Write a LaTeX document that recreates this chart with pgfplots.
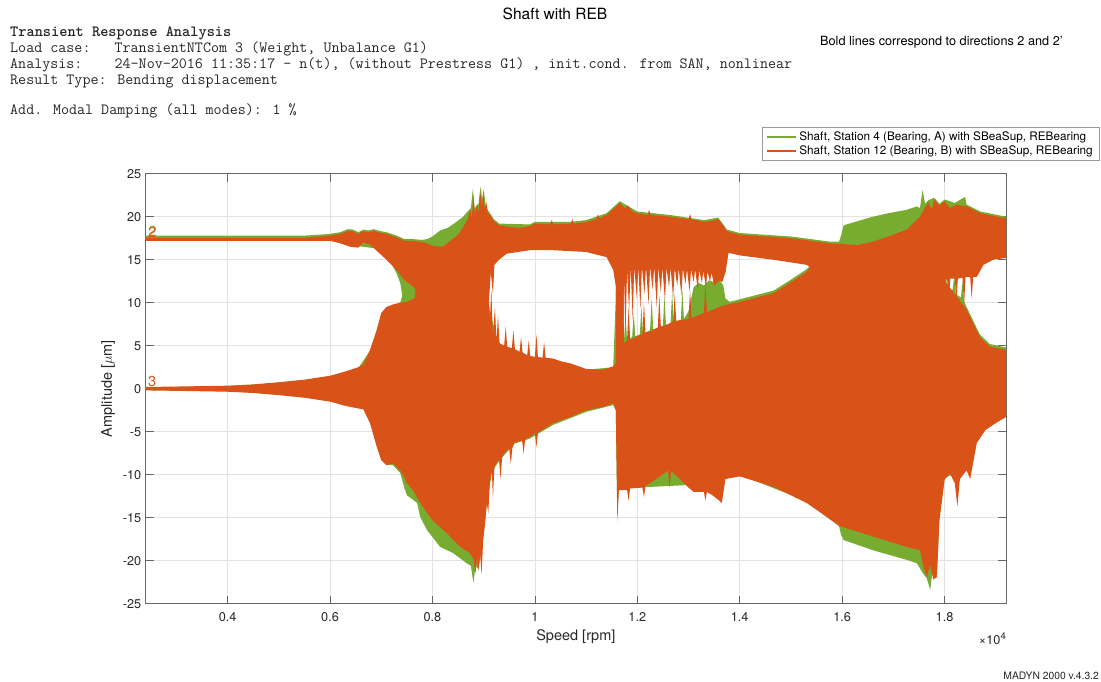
\documentclass[border=0pt]{standalone}
\usepackage{fontspec}
\setmainfont{TeX Gyre Heros}
\usepackage{pgfplots}
\pgfplotsset{compat=1.18}
\usepgfplotslibrary{fillbetween}
\definecolor{mgreen}{HTML}{77AC30}
\definecolor{morange}{HTML}{D95319}
\definecolor{axgray}{HTML}{262626}

\begin{document}
\begin{tikzpicture}[x=1pt,y=1pt]
% page frame
\path (0,0) rectangle (1101,682);

% page header
\node[anchor=base, font=\fontsize{15.5}{18}\selectfont] at (555,662) {Shaft with REB};
\begin{scope}[every node/.style={anchor=base west, inner sep=0pt, font=\ttfamily\fontsize{15.6}{17}\selectfont, text=axgray}]
\node[font=\ttfamily\bfseries\fontsize{15.6}{17}\selectfont] at (10,645) {Transient Response Analysis};
\node at (10,629) {Load case:\ \ \ TransientNTCom 3 (Weight, Unbalance G1)};
\node at (10,613) {Analysis:\ \ \ \ 24-Nov-2016 11:35:17 - n(t), (without Prestress G1) , init.cond. from SAN, nonlinear};
\node at (10,597) {Result Type: Bending displacement};
\node at (10,567) {Add. Modal Damping (all modes): 1 \%};
\end{scope}
\node[anchor=base west, inner sep=0pt, font=\fontsize{12.7}{15}\selectfont] at (820,636) {Bold lines correspond to directions 2 and 2'};
\node[anchor=base east, inner sep=0pt, font=\fontsize{10.3}{12}\selectfont, text=axgray] at (1099,2) {MADYN 2000 v.4.3.2};
\node[anchor=base east, inner sep=0pt, font=\fontsize{12.7}{14}\selectfont, text=axgray] at (1006,37) {×10\raisebox{5pt}{\fontsize{9.5}{10}\selectfont 4}};

\begin{axis}[
  at={(145.7pt,78.3pt)}, anchor=south west,
  scale only axis, width=860.3pt, height=430pt,
  xmin=0.24, xmax=1.92, ymin=-25, ymax=25,
  xtick={0.4,0.6,0.8,1.0,1.2,1.4,1.6,1.8},
  xticklabels={0.4,0.6,0.8,1,1.2,1.4,1.6,1.8},
  ytick={-25,-20,-15,-10,-5,0,5,10,15,20,25},
  yticklabels={-25,-20,-15,-10,-5,0,5,10,15,20,25},
  grid=major, major grid style={color=black!11, line width=0.6pt},
  tick align=inside, tick pos=both, major tick length=8pt,
  axis line style={axgray!70, line width=0.6pt},
  tick style={axgray!70, line width=0.6pt},
  ticklabel style={font=\fontsize{12.7}{14}\selectfont, text=axgray},
  xticklabel style={yshift=-5pt},
  yticklabel style={xshift=-1pt},
  xlabel={Speed [rpm]}, ylabel={Amplitude [$\mu$m]},
  label style={font=\fontsize{14.5}{16}\selectfont, text=axgray},
  xlabel style={at={(axis description cs:0.5,-0.0775)}, anchor=center},
  ylabel style={at={(axis description cs:-0.0435,0.5)}, anchor=center},
  legend style={at={(1.1081,1.0302)}, anchor=south east, draw=black!40,
    line width=0.5pt, font=\fontsize{11.75}{13}\selectfont, fill=white,
    inner xsep=4pt, inner ysep=2.5pt, row sep=0pt, cells={anchor=west}},
  legend image code/.code={\draw[#1] (0pt,0pt) -- (29pt,0pt);},
]
\addlegendimage{mgreen, line width=2pt}
\addlegendentry{Shaft, Station 4 (Bearing, A) with SBeaSup, REBearing}
\addlegendimage{morange, line width=2pt}
\addlegendentry{Shaft, Station 12 (Bearing, B) with SBeaSup, REBearing}

% ---------- Station 4 (green): direction 2 band ----------
\addplot[draw=none, forget plot, name path=g2t] coordinates {
(0.24,17.8) (0.55,17.8) (0.60,18.0) (0.62,18.2) (0.635,18.55) (0.645,18.5) (0.655,18.2)
(0.665,18.5) (0.675,18.4) (0.685,18.55) (0.70,18.3) (0.71,18.2) (0.72,18.0) (0.73,17.8)
(0.745,17.4) (0.76,17.4) (0.78,17.3) (0.79,17.4) (0.80,17.7) (0.815,18.4) (0.83,18.7)
(0.847,19.4) (0.86,20.0) (0.867,20.5) (0.875,21.0) (0.879,23.3) (0.882,21.0) (0.89,21.5)
(0.894,23.5) (0.897,22.0) (0.90,23.2) (0.904,21.2) (0.91,20.6) (0.92,19.7) (0.93,19.2)
(0.99,19.1) (1.0,19.4) (1.07,19.4) (1.10,19.6) (1.14,20.4) (1.166,21.8) (1.20,20.6)
(1.264,20.2) (1.33,19.6) (1.358,19.9) (1.375,18.5) (1.40,18.1) (1.50,17.7) (1.576,17.1)
(1.594,17.1) (1.598,17.8) (1.603,19.0) (1.62,19.3) (1.66,20.0) (1.69,20.4) (1.726,20.8)
(1.746,21.2) (1.752,21.0) (1.757,23.1) (1.762,21.5) (1.768,21.9) (1.78,22.2) (1.79,21.5)
(1.80,22.0) (1.82,21.6) (1.84,22.3) (1.843,21.4) (1.87,20.6) (1.92,20.0)};
\addplot[draw=none, forget plot, name path=g2b] coordinates {
(0.24,17.4) (0.60,17.4) (0.64,16.7) (0.69,16.3) (0.71,15.2) (0.72,14.5) (0.73,13.4)
(0.737,12.3) (0.742,10.5) (0.75,11.0) (0.76,10.8) (0.77,11.0) (0.772,5) (0.905,5)
(0.912,13.5) (0.921,14.6) (0.93,15.2) (0.945,15.9) (0.99,16.3) (1.10,16.1) (1.14,15.5)
(1.153,14.0) (1.158,12.0) (1.160,5) (1.172,5) (1.174,14.2) (1.36,13.5) (1.372,13.5)
(1.378,15.9) (1.531,14.6) (1.540,14.2) (1.545,5) (1.80,5) (1.802,12.8) (1.863,13.2)
(1.876,14.6) (1.895,15.2) (1.92,15.4)};
\addplot[mgreen, forget plot] fill between[of=g2t and g2b];

% ---------- Station 4 (green): direction 3 band ----------
\addplot[draw=none, forget plot, name path=g3t] coordinates {
(0.24,0.15) (0.30,0.2) (0.40,0.3) (0.45,0.45) (0.50,0.7) (0.55,1.0) (0.60,1.45) (0.655,2.4)
(0.678,4.4) (0.691,6.7)
(0.70,8.7) (0.71,9.4) (0.723,9.7) (0.737,10.0) (0.742,11.0) (0.75,12.0) (0.76,12.0)
(0.772,14) (0.905,14) (0.912,9) (0.93,5.0) (1.0,3.6) (1.069,2.9) (1.10,2.2) (1.153,2.5)
(1.160,14) (1.172,14) (1.174,5.5) (1.177,8.5) (1.180,5.6) (1.19,6.0)
(1.193,8.8) (1.196,6.1) (1.205,6.3) (1.208,9.5) (1.211,6.4) (1.225,6.8) (1.228,10.5)
(1.231,6.9) (1.25,7.3) (1.253,10.8) (1.256,7.4) (1.265,7.6) (1.268,11.2) (1.271,7.7)
(1.285,8.0) (1.288,11.5) (1.291,8.1) (1.30,9.0) (1.31,11.8) (1.32,12.3) (1.33,12.0)
(1.34,12.6) (1.35,12.4) (1.36,12.7) (1.368,12.0) (1.372,10.5) (1.38,10.1) (1.40,10.4)
(1.466,11.4) (1.498,12.6) (1.531,13.9) (1.542,14.6) (1.55,16) (1.795,16) (1.80,12.8)
(1.803,13.5) (1.806,10.5) (1.816,11.6) (1.819,13.2) (1.822,11.0) (1.832,10.6) (1.835,12.5)
(1.838,10.2) (1.843,9.5) (1.869,6.3) (1.888,5.2) (1.92,4.8)};
\addplot[draw=none, forget plot, name path=g3b] coordinates {
(0.24,-0.15) (0.30,-0.2) (0.40,-0.3) (0.45,-0.45) (0.50,-0.7) (0.55,-1.0) (0.60,-1.45)
(0.665,-2.3) (0.678,-3.9) (0.691,-6.6)
(0.70,-8.2) (0.71,-8.8) (0.723,-8.9) (0.737,-9.8) (0.745,-11.5) (0.75,-12.4) (0.762,-12.9)
(0.77,-13.3) (0.776,-14.9) (0.789,-16.4) (0.815,-18.4) (0.84,-19.1) (0.867,-20.3)
(0.875,-20.6) (0.880,-22.6) (0.884,-20.6) (0.89,-21.0) (0.894,-19.3) (0.899,-17.6)
(0.906,-13.5) (0.916,-9.7) (0.93,-8.4) (0.96,-6.4) (0.99,-5.8) (1.036,-4.2) (1.10,-2.7)
(1.153,-1.9) (1.158,-2.5) (1.161,-14.5) (1.164,-11.6) (1.30,-11.2) (1.31,-11.8)
(1.33,-11.8) (1.365,-13.0) (1.372,-10.3) (1.40,-10.0) (1.531,-13.1) (1.594,-16.0)
(1.598,-17.0) (1.603,-17.6) (1.661,-18.8) (1.726,-19.9) (1.746,-20.3) (1.758,-21.5)
(1.765,-22.0) (1.772,-23.4) (1.776,-21.5) (1.785,-21.5) (1.79,-15.0) (1.80,-10.4)
(1.843,-9.3) (1.863,-6.1) (1.88,-4.6) (1.92,-3.1)};
\addplot[mgreen, forget plot] fill between[of=g3t and g3b];

% ---------- Station 12 (orange): direction 2 band ----------
\addplot[draw=none, forget plot, name path=o2t] coordinates {
(0.24,17.55) (0.55,17.55) (0.60,17.8) (0.62,18.0) (0.635,18.35) (0.645,18.3) (0.655,18.0)
(0.665,18.3) (0.675,18.2) (0.685,18.35) (0.70,18.1) (0.71,18.0) (0.72,17.8) (0.73,17.6)
(0.745,17.2) (0.76,17.2) (0.775,17.1) (0.79,16.9) (0.80,16.6) (0.82,16.5) (0.835,17.2)
(0.85,17.9) (0.86,18.8) (0.868,19.6) (0.874,20.8) (0.877,19.8) (0.880,22.6) (0.883,20.2)
(0.887,21.5) (0.890,20.4) (0.893,23.0) (0.896,21.0) (0.899,22.8) (0.902,20.8) (0.905,21.8)
(0.908,20.4) (0.912,20.3) (0.92,19.5) (0.93,19.0) (0.95,18.8) (0.97,18.7) (0.99,18.9)
(1.0,19.2) (1.03,19.1) (1.033,19.6) (1.036,19.1) (1.07,19.2) (1.073,19.7) (1.076,19.2)
(1.10,19.4) (1.12,19.7) (1.123,20.3) (1.126,19.8) (1.14,20.2) (1.155,21.0) (1.166,21.6)
(1.175,21.0) (1.182,21.3) (1.19,20.6) (1.20,20.4) (1.22,20.2) (1.223,20.8) (1.226,20.2)
(1.264,20.0) (1.30,19.7) (1.303,20.3) (1.306,19.7) (1.33,19.4) (1.345,19.5) (1.358,19.7)
(1.368,19.0) (1.375,18.3) (1.40,17.9) (1.50,17.5) (1.576,16.9) (1.63,16.7) (1.66,17.1)
(1.69,17.7) (1.726,18.5) (1.752,20.0) (1.768,21.7) (1.775,20.8) (1.78,22.0) (1.79,21.3)
(1.80,21.8) (1.81,21.0) (1.824,21.4) (1.843,21.2) (1.87,20.4) (1.92,19.8)};
\addplot[draw=none, forget plot, name path=o2b] coordinates {
(0.24,17.2) (0.60,17.2) (0.62,16.9) (0.64,16.5) (0.655,16.4) (0.665,17.0) (0.68,16.7)
(0.69,16.1) (0.71,15.0) (0.73,13.8) (0.743,12.8) (0.75,12.4) (0.76,12.0) (0.768,11.5)
(0.775,5) (0.905,5) (0.910,10) (0.914,13.5) (0.918,11) (0.921,14.4) (0.93,15.0)
(0.945,15.7) (0.99,16.1) (1.036,16.1) (1.10,15.9) (1.14,15.3) (1.153,13.8) (1.158,12)
(1.160,5) (1.172,5) (1.174,13.0) (1.177,6.5) (1.180,13.8) (1.184,9.0) (1.187,14.2)
(1.191,8.0) (1.194,14.2) (1.199,10.5) (1.202,14.2) (1.206,9.2) (1.209,14.2) (1.214,11.0)
(1.217,14.2) (1.222,9.8) (1.225,14.2) (1.23,11.5) (1.233,14.2) (1.238,9.5) (1.241,14.1)
(1.246,11.2) (1.249,14.1) (1.254,10.2) (1.257,14.1) (1.262,11.8) (1.265,14.1) (1.27,10.5)
(1.273,14.0) (1.278,12.0) (1.281,14.0) (1.286,10.8) (1.289,14.0) (1.294,12.2) (1.297,13.9)
(1.302,11.3) (1.305,13.9) (1.31,12.4) (1.313,13.9) (1.318,11.5) (1.321,13.8) (1.326,12.3)
(1.329,13.7) (1.334,11.8) (1.337,13.6) (1.342,12.5) (1.345,13.5) (1.35,12.0) (1.36,12.6)
(1.366,12.4) (1.372,13.5)
(1.378,15.8) (1.40,15.5) (1.465,15.0) (1.531,14.4) (1.540,14.0) (1.545,5) (1.80,5)
(1.802,12.6) (1.805,12.8) (1.808,9.8) (1.811,12.8) (1.82,12.8) (1.823,10.2) (1.826,12.8)
(1.835,12.9) (1.838,9.6) (1.841,13.0) (1.85,13.0) (1.853,10.5) (1.856,13.0) (1.863,13.0)
(1.876,14.4) (1.895,15.0) (1.92,15.2)};
\addplot[morange, forget plot] fill between[of=o2t and o2b];

% ---------- Station 12 (orange): direction 3 band ----------
\addplot[draw=none, forget plot, name path=o3t] coordinates {
(0.24,0.2) (0.30,0.25) (0.40,0.35) (0.45,0.5) (0.50,0.75) (0.55,1.05) (0.60,1.5) (0.63,2.0)
(0.655,2.5) (0.665,2.8) (0.678,4.5) (0.691,6.8) (0.70,8.8) (0.71,9.5) (0.723,9.8)
(0.737,10.0) (0.75,10.1) (0.765,10.5) (0.772,14) (0.905,14) (0.908,11.5) (0.912,8)
(0.915,11.5) (0.918,6) (0.922,9.5) (0.925,5.5) (0.928,8.5) (0.931,5.3) (0.94,5.0)
(0.943,7.2) (0.946,4.9) (0.955,4.7) (0.958,6.8) (0.961,4.6) (0.97,4.3) (0.973,6.0)
(0.976,4.2) (0.985,3.9) (0.988,5.6) (0.991,3.8) (1.0,3.7) (1.003,6.3) (1.006,3.7)
(1.015,3.6) (1.018,5.4) (1.021,3.6) (1.036,3.5) (1.05,3.2) (1.069,2.95) (1.10,2.3)
(1.134,2.2) (1.153,2.6) (1.158,3) (1.160,14) (1.172,14) (1.174,5.3) (1.18,5.6)
(1.183,9.5) (1.186,5.7) (1.20,6.1) (1.21,6.4) (1.213,10) (1.216,6.5) (1.23,6.8)
(1.24,7.1) (1.243,10.8) (1.246,7.2) (1.26,7.5) (1.27,7.8) (1.273,11) (1.276,7.9)
(1.30,8.1) (1.303,11.5) (1.306,8.2) (1.33,8.8) (1.333,12) (1.336,8.9) (1.36,9.5)
(1.37,9.7) (1.40,10.1) (1.466,11.1) (1.498,12.3) (1.531,13.6) (1.542,14.5) (1.55,16)
(1.795,16) (1.80,12.6) (1.82,11.0) (1.843,9.2) (1.869,6.0) (1.888,4.9) (1.92,4.5)};
\addplot[draw=none, forget plot, name path=o3b] coordinates {
(0.24,-0.2) (0.30,-0.25) (0.40,-0.35) (0.45,-0.5) (0.50,-0.75) (0.55,-1.05) (0.60,-1.5)
(0.63,-2.0) (0.655,-2.3) (0.665,-2.4) (0.678,-4.0) (0.691,-6.7) (0.70,-8.3) (0.71,-8.9)
(0.723,-8.7) (0.737,-9.5) (0.745,-10.3) (0.75,-11.0) (0.762,-11.8) (0.776,-13.3)
(0.80,-15.3) (0.828,-16.8) (0.854,-18.4) (0.873,-19.1) (0.880,-19.8) (0.884,-21.5)
(0.887,-19.6) (0.890,-21.2) (0.893,-19.3) (0.896,-21.6) (0.899,-17.5) (0.903,-15.5)
(0.906,-13.3) (0.909,-14.5) (0.912,-11) (0.916,-9.5) (0.918,-12.8) (0.921,-9.0)
(0.925,-8.7) (0.93,-8.3) (0.933,-10.5) (0.936,-8.0) (0.94,-7.5) (0.95,-7.0) (0.953,-8.8)
(0.956,-6.9) (0.96,-6.3) (0.975,-6.0) (0.978,-7.6) (0.981,-5.9) (0.99,-5.6) (1.0,-5.2)
(1.003,-6.8) (1.006,-5.1) (1.02,-4.6) (1.036,-4.0) (1.069,-3.3) (1.10,-2.5) (1.134,-2.1)
(1.153,-1.7) (1.158,-2.5) (1.161,-15.5) (1.164,-11.8) (1.18,-11.8) (1.183,-13)
(1.186,-11.6) (1.21,-11.5) (1.213,-12.6) (1.216,-11.3) (1.23,-10.8) (1.26,-9.5)
(1.263,-11.5) (1.266,-9.6) (1.28,-10.3) (1.30,-11.5) (1.31,-12.0) (1.33,-12.0)
(1.333,-13.0) (1.336,-12.0) (1.345,-12.3) (1.36,-13.0)
(1.365,-13.3) (1.372,-10.5) (1.40,-10.2) (1.466,-11.4) (1.531,-13.3) (1.596,-16.0)
(1.661,-17.2) (1.726,-18.4) (1.752,-18.8) (1.758,-20.5) (1.765,-21.9) (1.772,-20.5)
(1.778,-22.2) (1.785,-21.9) (1.79,-15.3) (1.80,-10.6) (1.81,-9.8) (1.82,-11)
(1.825,-13.7) (1.83,-10.5) (1.843,-9.5) (1.85,-10.5) (1.863,-6.3) (1.88,-4.8)
(1.90,-4.0) (1.92,-3.3)};
\addplot[morange, forget plot] fill between[of=o3t and o3b];

% direction markers at the start of the curves
\node[text=mgreen, font=\fontsize{14.5}{15}\selectfont, anchor=base west, inner sep=0pt] at (axis cs:0.2455,17.75) {2};
\node[text=morange, font=\fontsize{14.5}{15}\selectfont, anchor=base west, inner sep=0pt] at (axis cs:0.2445,17.6) {2};
\node[text=morange, font=\fontsize{14.5}{15}\selectfont, anchor=base west, inner sep=0pt] at (axis cs:0.2445,0.3) {3};
\end{axis}
\end{tikzpicture}
\end{document}
